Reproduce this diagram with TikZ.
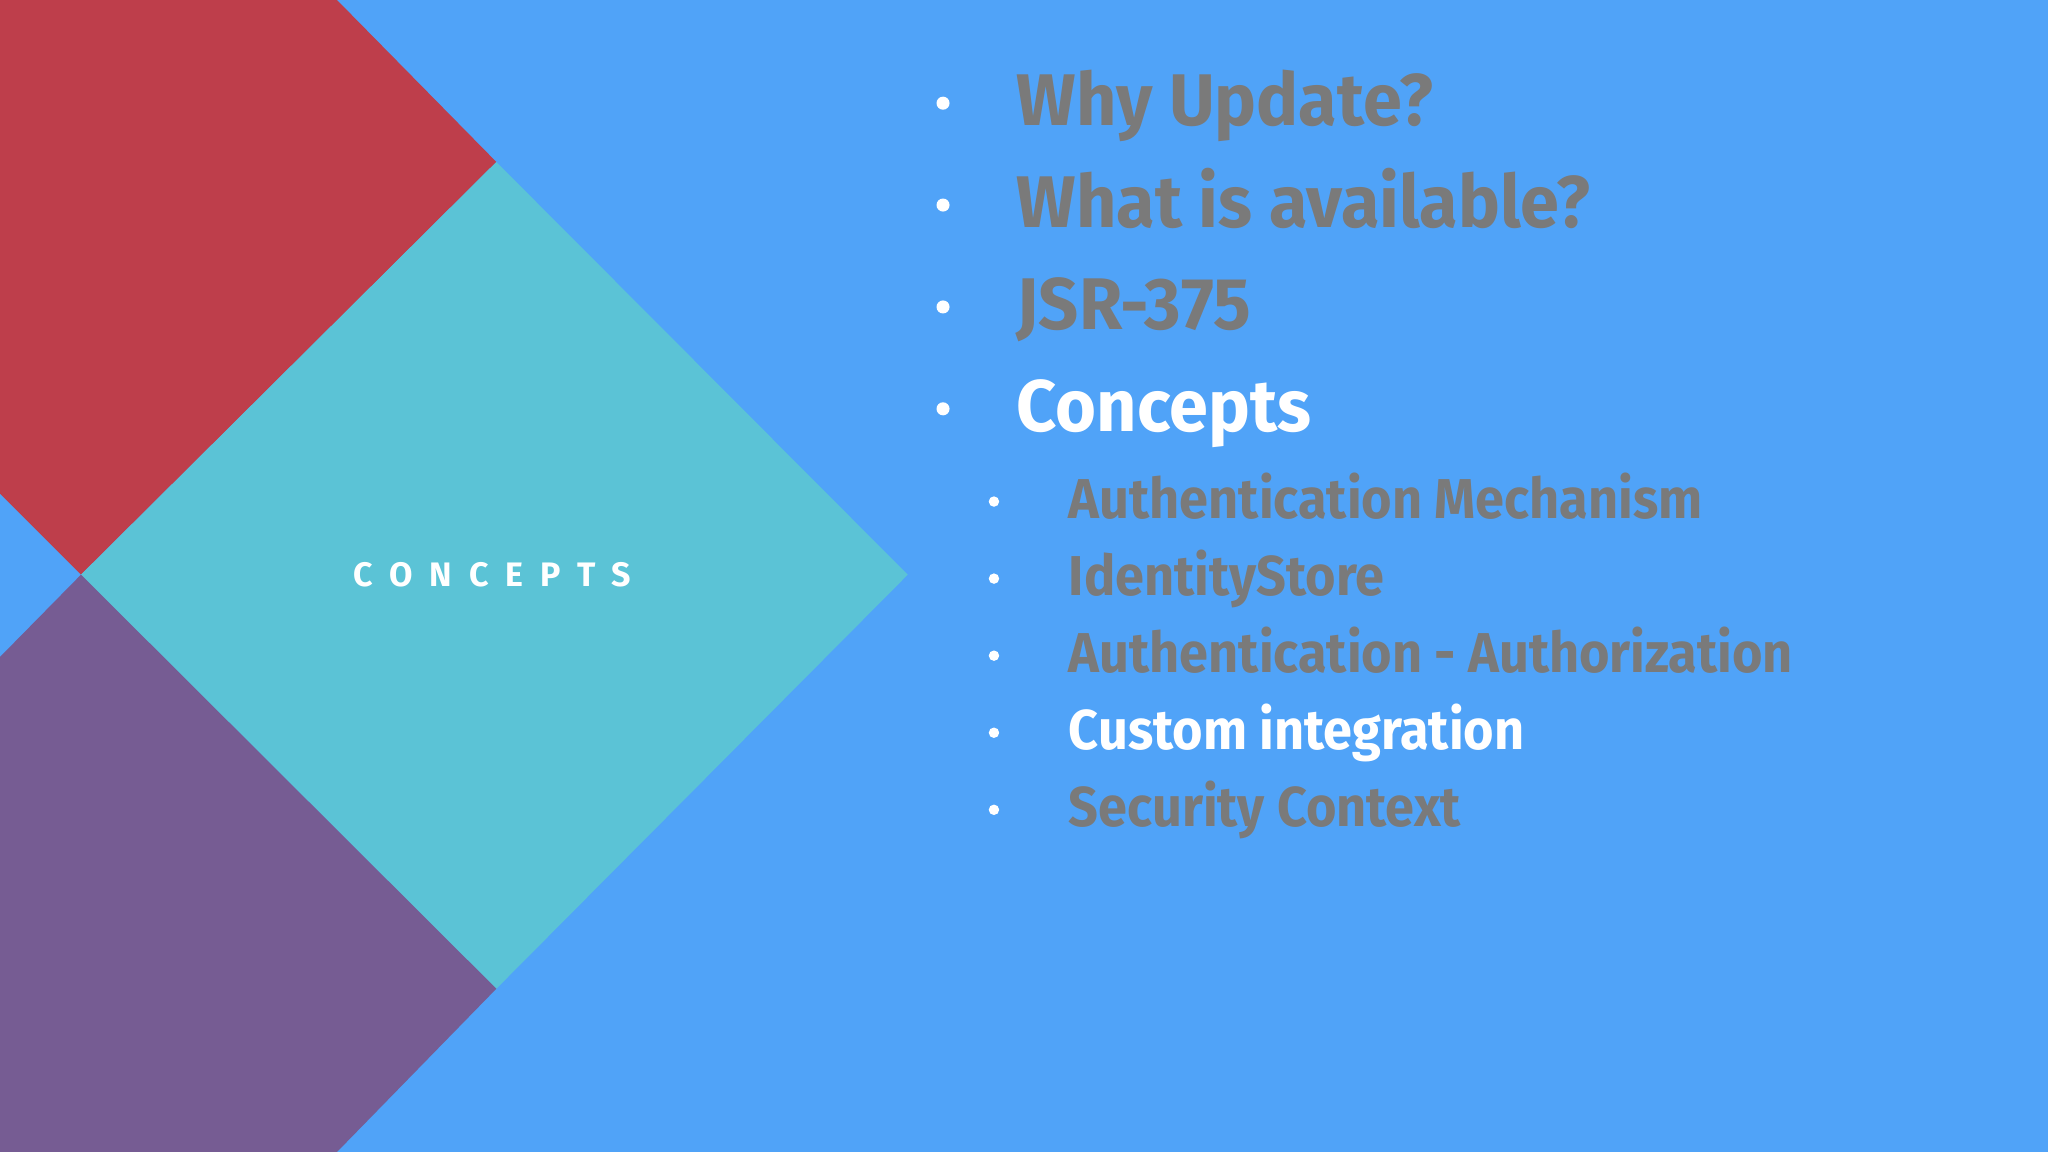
\documentclass[tikz,border=0pt]{standalone}
\usepackage{fontspec}
\setmainfont{Fira Sans}
\definecolor{bg}{HTML}{50A3F8}
\definecolor{redc}{HTML}{BE3E4B}
\definecolor{tealc}{HTML}{5BC3D6}
\definecolor{purc}{HTML}{765C93}
\definecolor{greyt}{HTML}{7A7A7A}
\begin{document}
\begin{tikzpicture}[x=0.5pt,y=-0.5pt,
  main/.style={anchor=base west,inner sep=0pt,font=\bfseries\fontsize{28}{30}\selectfont\addfontfeature{FakeStretch=0.96}},
  sub/.style={anchor=base west,inner sep=0pt,font=\bfseries\fontsize{21.5}{24}\selectfont\addfontfeature{FakeStretch=0.93}},
  bigdot/.style={circle,fill=white,inner sep=0pt,minimum size=5pt},
  smalldot/.style={circle,fill=white,inner sep=0pt,minimum size=4pt}]
\fill[bg] (0,0) rectangle (1568,882);
\useasboundingbox (0,0) rectangle (1568,882);
\fill[redc] (0,0) -- (258,0) -- (380,124) -- (62,440) -- (0,378) -- cycle;
\fill[tealc] (380,124) -- (695,440) -- (380,757) -- (62,440) -- cycle;
\fill[purc] (62,440) -- (380,757) -- (258,882) -- (0,882) -- (0,503) -- cycle;
\node[text=white,font=\bfseries\fontsize{13}{14}\selectfont\addfontfeature{LetterSpace=50}] (lbl) at (377,440) {CONCEPTS};
\foreach \y/\t/\c [count=\i] in {96/Why Update?/greyt,174/What is available?/greyt,252/JSR-375/greyt,330/Concepts/white}{
  \node[bigdot] (b\i) at (722,\y-17) {};
  \node[main,text=\c] (m\i) at (778,\y) {\t};
}
\foreach \y/\t/\c [count=\i] in {397/Authentication Mechanism/greyt,456/IdentityStore/greyt,515/Authentication - Authorization/greyt,574/Custom integration/white,633/Security Context/greyt}{
  \node[smalldot] (s\i) at (761,\y-13) {};
  \node[sub,text=\c] (t\i) at (818,\y) {\t};
}
\end{tikzpicture}
\end{document}
